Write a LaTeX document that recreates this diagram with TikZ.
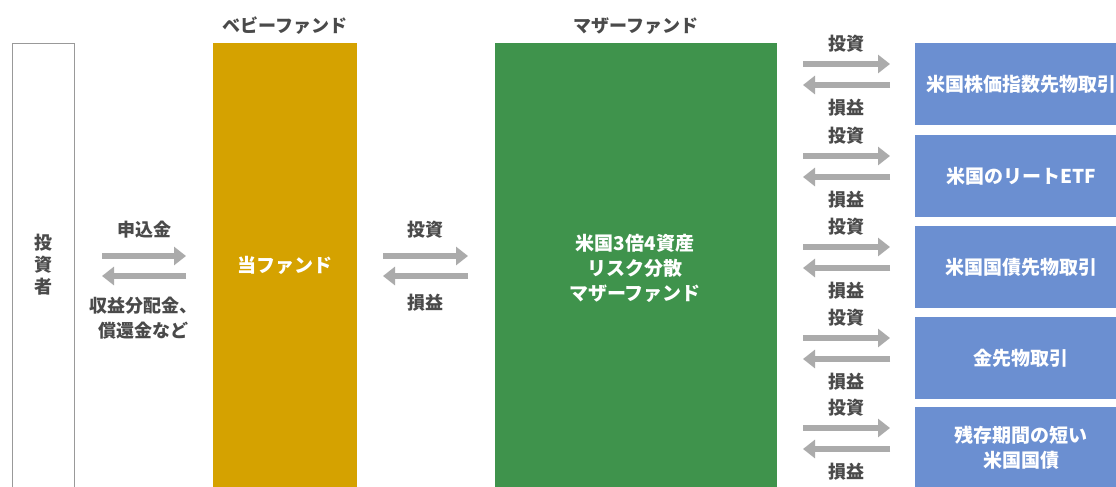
\documentclass[tikz,border=0pt]{standalone}
\usepackage{fontspec}
\setmainfont{Noto Sans CJK JP}
\usetikzlibrary{arrows.meta}
\definecolor{goldc}{HTML}{D5A200}
\definecolor{greenc}{HTML}{3F934C}
\definecolor{bluec}{HTML}{6B8FD1}
\definecolor{arrc}{HTML}{ABABAB}
\definecolor{txtc}{HTML}{4A4A4A}
\begin{document}
\begin{tikzpicture}[x=1pt,y=-1pt,
  lbl/.style={font=\fontsize{18}{21}\selectfont\bfseries, text=txtc, inner sep=0pt, align=center},
  wlbl/.style={font=\fontsize{19}{25}\selectfont\bfseries, text=white, align=center, inner sep=0pt},
  bigbox/.style={draw=none, inner sep=0pt, anchor=north west},
  arr/.style={arrc, line width=6.5pt, -{Triangle[length=12pt,width=18pt]}},
]
\useasboundingbox (0,0) rectangle (1116,487);
\clip (0,0) rectangle (1116,487);
\fill[white] (0,0) rectangle (1116,487);

% big columns
\node[bigbox, draw=gray!80, line width=1pt, fill=white, minimum width=62pt, minimum height=460pt] (inv) at (12,43) {};
\node[bigbox, fill=goldc, minimum width=144pt, minimum height=460pt] (baby) at (213,43) {};
\node[bigbox, fill=greenc, minimum width=282pt, minimum height=460pt] (mother) at (495,43) {};

\node[lbl, font=\fontsize{18}{22}\selectfont\bfseries] (invt) at (43,265) {投\\資\\者};
\node[lbl] (babyt) at (285,26) {ベビーファンド};
\node[lbl] (mothert) at (636,26) {マザーファンド};
\node[wlbl] (babyin) at (285,265) {当ファンド};
\node[wlbl] (motherin) at (635,268) {米国3倍4資産\\リスク分散\\マザーファンド};

% investor <-> baby
\coordinate (a1s) at (102,256); \coordinate (a1e) at (186,256);
\coordinate (a2s) at (186,276); \coordinate (a2e) at (102,276);
\draw[arr] (a1s) -- (a1e);
\draw[arr] (a2s) -- (a2e);
\node[lbl] (t1) at (144,230) {申込金};
\node[lbl, font=\fontsize{18}{25}\selectfont\bfseries] (t2) at (143,318) {収益分配金、\\償還金など};

% baby <-> mother
\coordinate (b1s) at (383,256); \coordinate (b1e) at (468,256);
\coordinate (b2s) at (468,276); \coordinate (b2e) at (383,276);
\draw[arr] (b1s) -- (b1e);
\draw[arr] (b2s) -- (b2e);
\node[lbl] (t3) at (425,230) {投資};
\node[lbl] (t4) at (425,303) {損益};

% right boxes
\foreach \i/\top/\txt in {1/43/米国株価指数先物取引, 2/135/米国のリートETF, 3/226/米国国債先物取引, 4/317/金先物取引, 5/407/{残存期間の短い\\米国国債}}{
  \node[bigbox, fill=bluec, minimum width=212pt, minimum height=82pt] (r\i) at (915,\top) {};
  \node[wlbl] (rt\i) at (1021,\top+41) {\txt};
  \coordinate (c\i a) at (803,\top+21);
  \coordinate (c\i b) at (890,\top+21);
  \coordinate (c\i c) at (890,\top+42);
  \coordinate (c\i d) at (803,\top+42);
  \draw[arr] (c\i a) -- (c\i b);
  \draw[arr] (c\i c) -- (c\i d);
  \node[lbl] (iv\i) at (846,\top+1) {投資};
  \node[lbl] (pl\i) at (846,\top+65) {損益};
}
\end{tikzpicture}
\end{document}
